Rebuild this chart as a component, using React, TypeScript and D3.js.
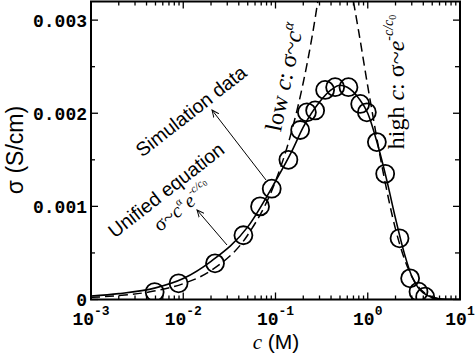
import React, { useEffect, useRef } from 'react';
import * as d3 from 'd3';

// simulation data (open circles)
const simC = [0.0049, 0.0089, 0.0221, 0.0449, 0.068, 0.091, 0.138, 0.185, 0.219, 0.269, 0.345, 0.443, 0.618, 0.828, 0.978, 1.256, 1.545, 2.21, 2.88, 3.55, 4.19];
const simSigma = [0.00008, 0.000174, 0.000388, 0.00069, 0.001, 0.00119, 0.0015, 0.00182, 0.00201, 0.00203, 0.00225, 0.00228, 0.00228, 0.0021, 0.00201, 0.00169, 0.00135, 0.000657, 0.000227, 0.000084, 0.00003];

// unified equation (solid line)
const fitC = [0.001, 0.002, 0.005, 0.01, 0.02, 0.05, 0.1, 0.15, 0.2, 0.3, 0.4, 0.5, 0.6, 0.8, 1.0, 1.3, 1.6, 2.0, 2.5, 3.0, 3.5, 4.0, 5.0, 6.5, 10];
const fitSigma = [0.0000375, 0.000063, 0.000125, 0.000225, 0.00041, 0.00078, 0.00127, 0.00159, 0.00185, 0.00212, 0.00225, 0.0023, 0.00228, 0.00216, 0.002, 0.00164, 0.00129, 0.00087, 0.00049, 0.00025, 0.00013, 0.00007, 0.000022, 0.000005, 0.0000003];

// low c: power law (dashed)
const lowC = [0.001, 0.002, 0.005, 0.01, 0.02, 0.05, 0.1, 0.15, 0.2, 0.25, 0.3];
const lowSigma = [0.000023, 0.000042, 0.000093, 0.00017, 0.000311, 0.000693, 0.00127, 0.00181, 0.00233, 0.00283, 0.00332];

// high c: exponential (dashed)
const highC = [0.7, 0.8, 1.0, 1.2, 1.5, 2.0, 2.5, 3.0, 3.5, 4.0, 5.0, 6.0];
const highSigma = [0.0032, 0.00287, 0.00229, 0.00184, 0.00132, 0.000756, 0.000434, 0.000249, 0.000143, 0.000082, 0.000027, 0.0000089];

const xTickExps = [-3, -2, -1, 0, 1];
const yTicks = [0, 0.001, 0.002, 0.003];
const yTickLabels = ['0', '0.001', '0.002', '0.003'];
const yMinorTicks = [0.0005, 0.0015, 0.0025];

const App = () => {
  const ref = useRef<SVGSVGElement>(null);

  useEffect(() => {
    const width = 476;
    const height = 354;
    const margin = { top: 1.5, right: 16, bottom: 54.5, left: 91 };
    const svg = d3.select(ref.current);
    svg.selectAll('*').remove();

    const x = d3.scaleLog().domain([1e-3, 10]).range([margin.left, width - margin.right]);
    const y = d3.scaleLinear().domain([0, 0.0032]).range([height - margin.bottom, margin.top]);
    const [x0, x1] = x.range();
    const [y0, y1] = y.range();

    const defs = svg.append('defs');
    defs.append('clipPath').attr('id', 'plot')
      .append('rect').attr('x', x0).attr('y', y1).attr('width', x1 - x0).attr('height', y0 - y1);
    defs.append('marker').attr('id', 'arr')
      .attr('viewBox', '0 0 10 10').attr('refX', 9).attr('refY', 5)
      .attr('markerWidth', 8).attr('markerHeight', 8).attr('orient', 'auto')
      .append('path').attr('d', 'M0,1 L9,5 L0,9')
      .attr('fill', 'none').attr('stroke', '#000').attr('stroke-width', 1.2);

    // ticks
    const ticks = svg.append('g').attr('stroke', '#000').attr('stroke-width', 1.3);
    const minorX: number[] = [];
    xTickExps.slice(0, -1).forEach((e) => {
      for (let k = 2; k <= 9; k++) minorX.push(k * Math.pow(10, e));
    });
    xTickExps.forEach((e) => {
      const px = x(Math.pow(10, e));
      ticks.append('line').attr('x1', px).attr('x2', px).attr('y1', y0).attr('y2', y0 - 7);
      ticks.append('line').attr('x1', px).attr('x2', px).attr('y1', y1).attr('y2', y1 + 7);
    });
    minorX.forEach((c) => {
      const px = x(c);
      ticks.append('line').attr('x1', px).attr('x2', px).attr('y1', y0).attr('y2', y0 - 4);
      ticks.append('line').attr('x1', px).attr('x2', px).attr('y1', y1).attr('y2', y1 + 4);
    });
    yTicks.forEach((v) => {
      ticks.append('line').attr('x1', x0).attr('x2', x0 + 7).attr('y1', y(v)).attr('y2', y(v));
      ticks.append('line').attr('x1', x1).attr('x2', x1 - 7).attr('y1', y(v)).attr('y2', y(v));
    });
    yMinorTicks.forEach((v) => {
      ticks.append('line').attr('x1', x0).attr('x2', x0 + 4).attr('y1', y(v)).attr('y2', y(v));
      ticks.append('line').attr('x1', x1).attr('x2', x1 - 5).attr('y1', y(v)).attr('y2', y(v));
    });

    // tick labels
    const mono = '"Liberation Mono", "DejaVu Sans Mono", monospace';
    svg.append('g').selectAll('text').data(yTicks).enter().append('text')
      .attr('x', x0 - 4).attr('y', (d) => y(d)).attr('dy', '0.36em')
      .attr('text-anchor', 'end').attr('font-family', mono).attr('font-weight', 'bold')
      .attr('font-size', 18).text((d, i) => yTickLabels[i]);

    const xl = svg.append('g').attr('font-family', mono).attr('font-weight', 'bold');
    xTickExps.forEach((e) => {
      const t = xl.append('text').attr('x', x(Math.pow(10, e))).attr('y', 325)
        .attr('text-anchor', 'middle').attr('font-size', 18);
      t.append('tspan').text('10');
      t.append('tspan').attr('font-size', 13).attr('dy', -10).text(String(e));
    });

    // axis titles
    const t = svg.append('text').attr('x', 276).attr('y', 349).attr('text-anchor', 'middle').attr('font-size', 21);
    t.append('tspan').attr('font-family', '"Liberation Serif", serif').attr('font-style', 'italic').text('c');
    t.append('tspan').attr('font-family', '"Liberation Sans", Arial, sans-serif').text(' (M)');
    svg.append('text').attr('transform', 'translate(23,150) rotate(-90)')
      .attr('text-anchor', 'middle').attr('font-size', 23)
      .attr('font-family', '"Liberation Sans", Arial, sans-serif').text('σ (S/cm)');

    // curves
    const plot = svg.append('g').attr('clip-path', 'url(#plot)');
    const line = d3.line<[number, number]>().x((d) => x(d[0])).y((d) => y(d[1])).curve(d3.curveMonotoneX);
    plot.append('path').attr('d', line(lowC.map((c, i) => [c, lowSigma[i]])))
      .attr('fill', 'none').attr('stroke', '#000').attr('stroke-width', 1.5).attr('stroke-dasharray', '9,5');
    plot.append('path').attr('d', line(highC.map((c, i) => [c, highSigma[i]])))
      .attr('fill', 'none').attr('stroke', '#000').attr('stroke-width', 1.5).attr('stroke-dasharray', '9,5');
    plot.append('path').attr('d', line(fitC.map((c, i) => [c, fitSigma[i]])))
      .attr('fill', 'none').attr('stroke', '#000').attr('stroke-width', 1.6);

    plot.selectAll('circle').data(simC).enter().append('circle')
      .attr('cx', (d) => x(d)).attr('cy', (d, i) => y(simSigma[i])).attr('r', 9)
      .attr('fill', 'none').attr('stroke', '#000').attr('stroke-width', 1.8);

    // frame
    svg.append('rect').attr('x', x0).attr('y', y1).attr('width', x1 - x0).attr('height', y0 - y1)
      .attr('fill', 'none').attr('stroke', '#000').attr('stroke-width', 2);

    // annotations
    const sans = '"Liberation Sans", Arial, sans-serif';
    const serif = '"Liberation Serif", "Times New Roman", serif';
    svg.append('text').attr('transform', 'translate(191,111) rotate(-38)').attr('dy', '0.35em')
      .attr('text-anchor', 'middle').attr('font-family', sans).attr('font-size', 19.5).text('Simulation data');
    svg.append('text').attr('transform', 'translate(166,190) rotate(-38)').attr('dy', '0.35em')
      .attr('text-anchor', 'middle').attr('font-family', sans).attr('font-size', 19.5).text('Unified equation');

    const f = svg.append('text').attr('transform', 'translate(182,206) rotate(-38)').attr('dy', '0.35em')
      .attr('text-anchor', 'middle').attr('font-family', serif).attr('font-size', 20);
    f.append('tspan').text('σ~');
    f.append('tspan').attr('font-style', 'italic').text('c');
    f.append('tspan').attr('font-size', 11).attr('dy', -9).text('α');
    f.append('tspan').attr('font-style', 'italic').attr('dy', 9).attr('dx', 2).text('e');
    f.append('tspan').attr('font-size', 11).attr('font-style', 'italic').attr('dy', -10).text('-c/c');
    f.append('tspan').attr('font-size', 8).attr('dy', 2).text('0');

    const lo = svg.append('text').attr('transform', 'translate(284,77) rotate(-78)').attr('dy', '0.35em')
      .attr('text-anchor', 'middle').attr('font-family', serif).attr('font-size', 24);
    lo.append('tspan').text('low ');
    lo.append('tspan').attr('font-style', 'italic').text('c');
    lo.append('tspan').text(': σ~');
    lo.append('tspan').attr('font-style', 'italic').text('c');
    lo.append('tspan').attr('font-size', 15).attr('font-style', 'italic').attr('dy', -10).text('α');

    const hi = svg.append('text').attr('transform', 'translate(396,82) rotate(-90)').attr('dy', '0.35em')
      .attr('text-anchor', 'middle').attr('font-family', serif).attr('font-size', 24);
    hi.append('tspan').text('high ');
    hi.append('tspan').attr('font-style', 'italic').text('c');
    hi.append('tspan').text(': σ~');
    hi.append('tspan').attr('font-style', 'italic').text('e');
    hi.append('tspan').attr('font-size', 14).attr('font-style', 'italic').attr('dy', -11).text('-c/c');
    hi.append('tspan').attr('font-size', 10).attr('dy', 3).text('0');

    const arrows = svg.append('g').attr('stroke', '#000').attr('stroke-width', 1).attr('marker-end', 'url(#arr)');
    arrows.append('line').attr('x1', 266).attr('y1', 180).attr('x2', 212).attr('y2', 110);
    arrows.append('line').attr('x1', 227).attr('y1', 245).attr('x2', 197).attr('y2', 210);

    return () => {
      svg.selectAll('*').remove();
    };
  }, []);

  return (
    <svg ref={ref} width={476} height={354}
      style={{ position: 'absolute', left: 0, top: 0, background: '#fff' }} />
  );
};

export default App;
